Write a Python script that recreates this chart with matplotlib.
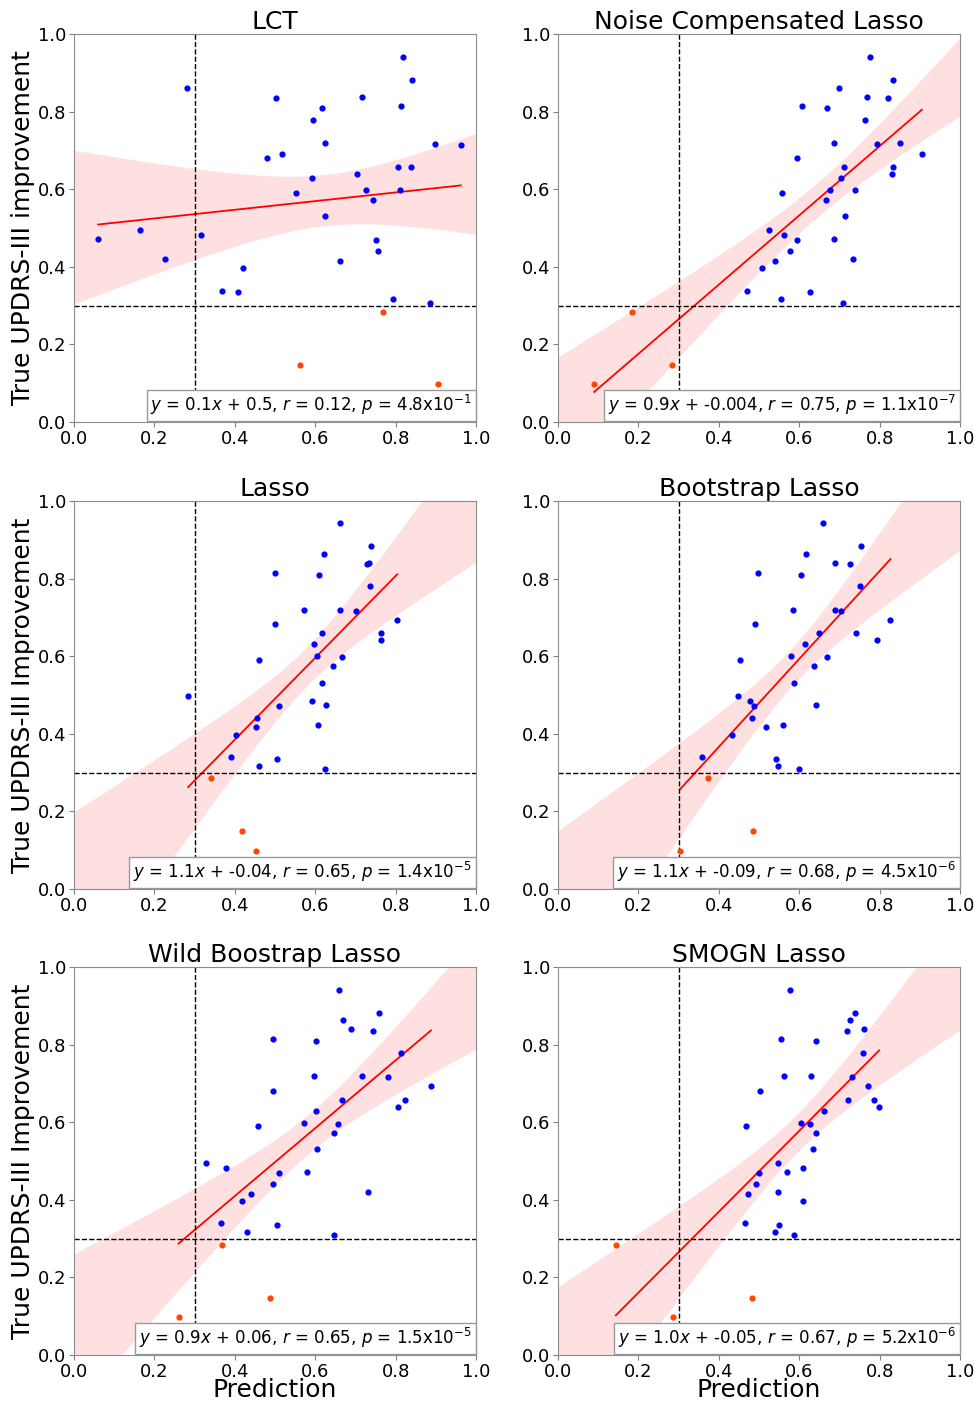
import numpy as np
import matplotlib
matplotlib.use("Agg")
import matplotlib.pyplot as plt

# panel titles, fit annotations and y labels
titles = ["LCT", "Noise Compensated Lasso", "Lasso", "Bootstrap Lasso",
          "Wild Boostrap Lasso", "SMOGN Lasso"]
fit_texts = [
    r"$y$ = 0.1$x$ + 0.5, $r$ = 0.12, $p$ = 4.8x10$^{-1}$",
    r"$y$ = 0.9$x$ + -0.004, $r$ = 0.75, $p$ = 1.1x10$^{-7}$",
    r"$y$ = 1.1$x$ + -0.04, $r$ = 0.65, $p$ = 1.4x10$^{-5}$",
    r"$y$ = 1.1$x$ + -0.09, $r$ = 0.68, $p$ = 4.5x10$^{-6}$",
    r"$y$ = 0.9$x$ + 0.06, $r$ = 0.65, $p$ = 1.5x10$^{-5}$",
    r"$y$ = 1.0$x$ + -0.05, $r$ = 0.67, $p$ = 5.2x10$^{-6}$",
]
ylabels = ["True UPDRS-III improvement", "True UPDRS-III Improvement",
           "True UPDRS-III Improvement"]
ticks = [0.0, 0.2, 0.4, 0.6, 0.8, 1.0]

# prediction (x) and true improvement (y) per model
lct_x = [0.060, 0.163, 0.227, 0.280, 0.316, 0.367, 0.409, 0.420, 0.481, 0.502,
         0.518, 0.551, 0.561, 0.592, 0.595, 0.616, 0.624, 0.625, 0.661, 0.703,
         0.716, 0.727, 0.745, 0.752, 0.756, 0.768, 0.794, 0.805, 0.812, 0.814,
         0.818, 0.838, 0.842, 0.886, 0.898, 0.905, 0.962]
lct_y = [0.472, 0.496, 0.420, 0.862, 0.482, 0.338, 0.334, 0.396, 0.681, 0.835,
         0.691, 0.589, 0.148, 0.630, 0.779, 0.808, 0.718, 0.530, 0.416, 0.639,
         0.838, 0.598, 0.572, 0.470, 0.440, 0.284, 0.316, 0.657, 0.597, 0.814,
         0.941, 0.657, 0.881, 0.308, 0.717, 0.097, 0.715]

ncl_x = [0.090, 0.183, 0.284, 0.470, 0.508, 0.526, 0.540, 0.555, 0.557, 0.561,
         0.576, 0.595, 0.595, 0.607, 0.626, 0.666, 0.670, 0.677, 0.686, 0.686,
         0.699, 0.703, 0.710, 0.712, 0.715, 0.733, 0.738, 0.764, 0.769, 0.775,
         0.794, 0.821, 0.830, 0.833, 0.833, 0.851, 0.905]
ncl_y = [0.097, 0.284, 0.148, 0.338, 0.396, 0.496, 0.416, 0.316, 0.589, 0.482,
         0.440, 0.470, 0.681, 0.814, 0.334, 0.572, 0.808, 0.598, 0.718, 0.472,
         0.862, 0.630, 0.308, 0.657, 0.530, 0.420, 0.597, 0.779, 0.838, 0.941,
         0.716, 0.835, 0.639, 0.657, 0.881, 0.718, 0.691]

lasso_x = [0.284, 0.340, 0.390, 0.404, 0.419, 0.452, 0.453, 0.456, 0.460, 0.461,
           0.499, 0.499, 0.506, 0.511, 0.572, 0.593, 0.598, 0.604, 0.606, 0.609,
           0.616, 0.618, 0.621, 0.624, 0.627, 0.644, 0.662, 0.662, 0.667, 0.701,
           0.728, 0.733, 0.736, 0.740, 0.763, 0.763, 0.804]
lasso_y = [0.497, 0.285, 0.340, 0.398, 0.149, 0.099, 0.417, 0.441, 0.591, 0.318,
           0.815, 0.683, 0.336, 0.472, 0.719, 0.485, 0.631, 0.600, 0.422, 0.810,
           0.659, 0.532, 0.863, 0.310, 0.473, 0.574, 0.942, 0.719, 0.597, 0.717,
           0.837, 0.839, 0.781, 0.883, 0.659, 0.641, 0.692]

boot_x = [0.304, 0.357, 0.374, 0.432, 0.448, 0.454, 0.478, 0.483, 0.485, 0.488,
          0.490, 0.497, 0.518, 0.543, 0.548, 0.559, 0.580, 0.585, 0.587, 0.600,
          0.604, 0.614, 0.616, 0.637, 0.643, 0.650, 0.658, 0.668, 0.688, 0.688,
          0.705, 0.726, 0.741, 0.751, 0.755, 0.794, 0.827]
boot_y = [0.099, 0.340, 0.285, 0.398, 0.497, 0.591, 0.484, 0.441, 0.149, 0.472,
          0.683, 0.815, 0.417, 0.336, 0.318, 0.422, 0.600, 0.719, 0.532, 0.310,
          0.810, 0.631, 0.863, 0.574, 0.473, 0.659, 0.942, 0.597, 0.839, 0.719,
          0.717, 0.837, 0.659, 0.781, 0.883, 0.641, 0.692]

wild_x = [0.260, 0.329, 0.366, 0.367, 0.379, 0.417, 0.430, 0.440, 0.457, 0.488,
          0.495, 0.495, 0.495, 0.504, 0.510, 0.572, 0.580, 0.596, 0.603, 0.603,
          0.604, 0.646, 0.648, 0.656, 0.659, 0.666, 0.668, 0.688, 0.716, 0.732,
          0.745, 0.758, 0.781, 0.806, 0.814, 0.823, 0.888]
wild_y = [0.097, 0.496, 0.339, 0.284, 0.482, 0.396, 0.316, 0.416, 0.589, 0.148,
          0.814, 0.681, 0.440, 0.334, 0.470, 0.598, 0.472, 0.718, 0.808, 0.630,
          0.530, 0.573, 0.308, 0.596, 0.941, 0.657, 0.862, 0.839, 0.718, 0.421,
          0.835, 0.882, 0.716, 0.640, 0.779, 0.657, 0.692]

smogn_x = [0.144, 0.286, 0.465, 0.467, 0.473, 0.483, 0.493, 0.499, 0.502, 0.540,
           0.547, 0.547, 0.551, 0.554, 0.561, 0.569, 0.576, 0.587, 0.605, 0.609,
           0.609, 0.627, 0.629, 0.634, 0.642, 0.643, 0.661, 0.718, 0.721, 0.727,
           0.731, 0.739, 0.759, 0.760, 0.770, 0.787, 0.799]
smogn_y = [0.284, 0.097, 0.339, 0.589, 0.416, 0.148, 0.440, 0.470, 0.681, 0.316,
           0.496, 0.421, 0.334, 0.814, 0.718, 0.472, 0.941, 0.308, 0.598, 0.482,
           0.396, 0.596, 0.718, 0.530, 0.573, 0.808, 0.630, 0.835, 0.657, 0.862,
           0.716, 0.882, 0.779, 0.839, 0.692, 0.657, 0.640]

xs = [lct_x, ncl_x, lasso_x, boot_x, wild_x, smogn_x]
ys = [lct_y, ncl_y, lasso_y, boot_y, wild_y, smogn_y]
threshold = 0.3

fig = plt.figure(figsize=(9.75, 14.04), dpi=100)
lefts = [0.0759, 0.5723]
bottoms = [0.6994, 0.3668, 0.0349]
w, h = 0.4123, 0.2764

for i in range(6):
    row, col = i // 2, i % 2
    ax = fig.add_axes([lefts[col], bottoms[row], w, h])
    x = np.array(xs[i])
    y = np.array(ys[i])

    # OLS fit and confidence band of the mean
    n = len(x)
    slope, intercept = np.polyfit(x, y, 1)
    resid = y - (slope * x + intercept)
    s = np.sqrt(np.sum(resid ** 2) / (n - 2))
    sxx = np.sum((x - x.mean()) ** 2)
    grid = np.linspace(0, 1, 200)
    se = s * np.sqrt(1 / n + (grid - x.mean()) ** 2 / sxx)
    fit = slope * grid + intercept
    ax.fill_between(grid, fit - 1.9 * se, fit + 1.9 * se,
                    color="red", alpha=0.12, linewidth=0)
    xl = np.array([x.min(), x.max()])
    ax.plot(xl, slope * xl + intercept, color="red", lw=1.3)

    low = y < threshold
    ax.scatter(x[~low], y[~low], c="blue", s=12, zorder=3)
    ax.scatter(x[low], y[low], c="orangered", s=12, zorder=3)

    ax.axhline(threshold, color="black", ls="--", lw=1)
    ax.axvline(threshold, color="black", ls="--", lw=1)

    ax.set_xlim(0, 1)
    ax.set_ylim(0, 1)
    ax.set_xticks(ticks)
    ax.set_yticks(ticks)
    ax.tick_params(labelsize=13, color="0.5", pad=2)
    for sp in ax.spines.values():
        sp.set_color("0.55")
    ax.set_title(titles[i], fontsize=18, pad=2)
    if col == 0:
        ax.set_ylabel(ylabels[row], fontsize=18, labelpad=2)
    if row == 2:
        ax.set_xlabel("Prediction", fontsize=18, labelpad=-2)

    ax.text(0.99, 0.012, fit_texts[i], transform=ax.transAxes,
            ha="right", va="bottom", fontsize=12, zorder=5,
            bbox=dict(facecolor="white", edgecolor="0.6", boxstyle="square,pad=0.22"))

fig.savefig("out.png", dpi=100)
